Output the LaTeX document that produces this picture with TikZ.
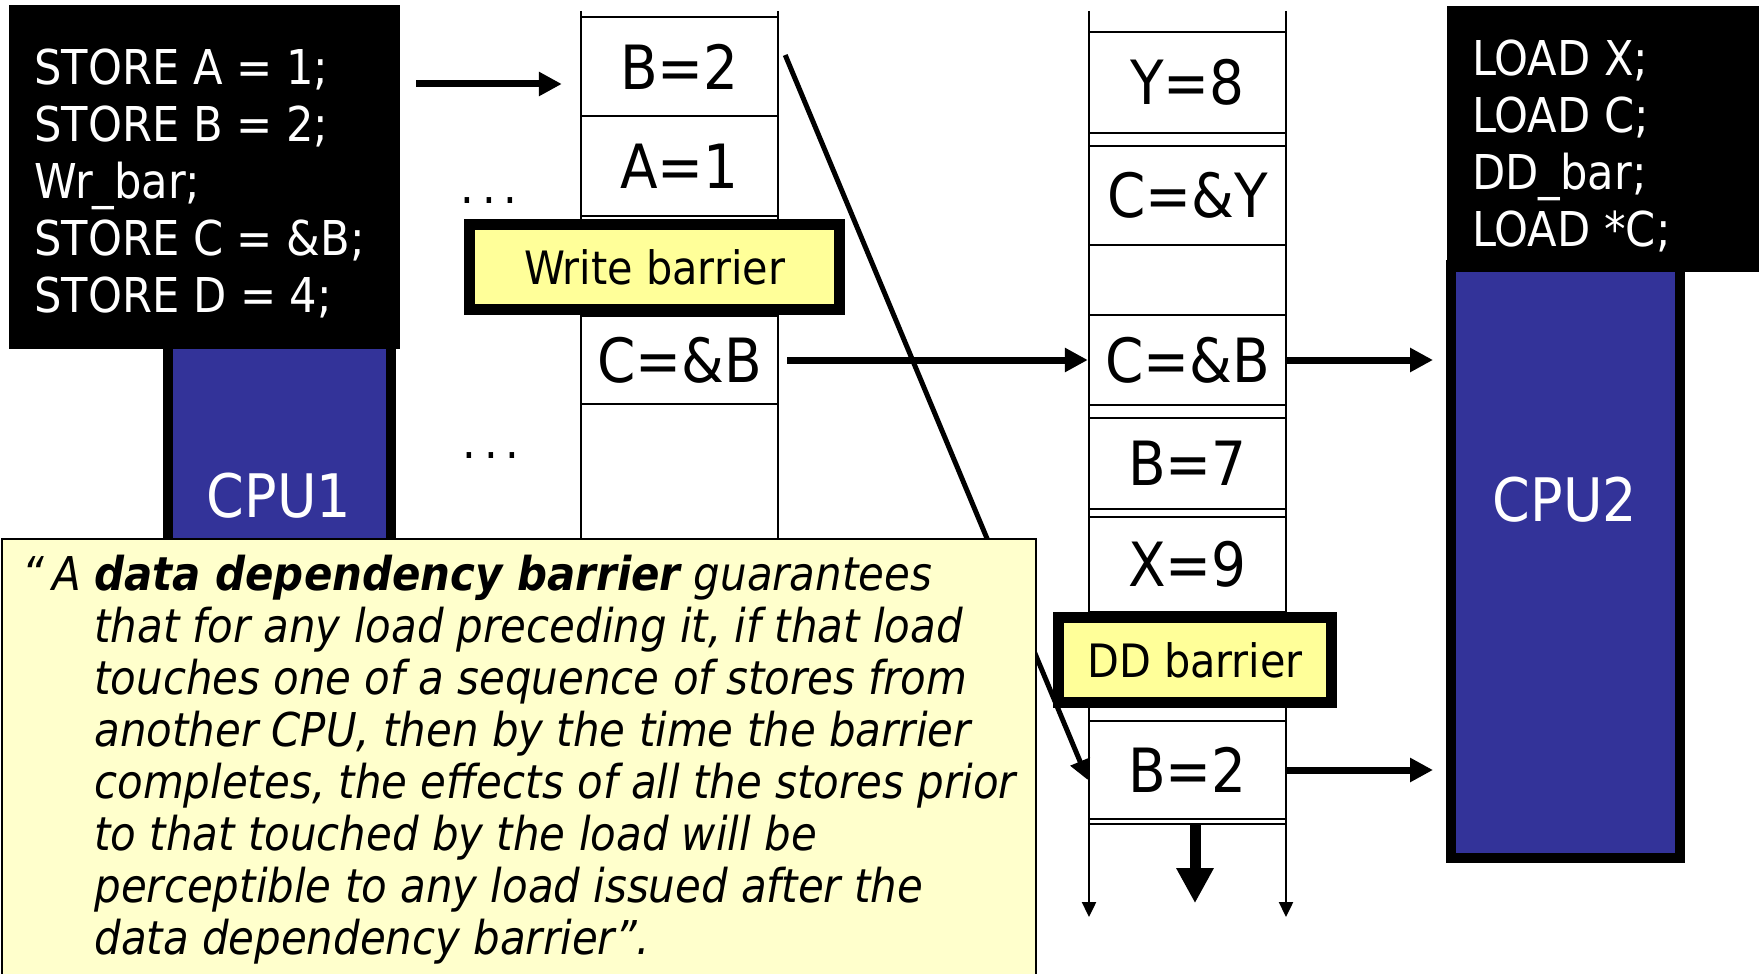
\documentclass[tikz,border=0pt]{standalone}
\usepackage{fontspec}
\setmainfont{DejaVuSansCondensed.ttf}[
    BoldFont=DejaVuSansCondensed-Bold.ttf,
    ItalicFont=DejaVuSansCondensed-Oblique.ttf,
    BoldItalicFont=DejaVuSansCondensed-BoldOblique.ttf]
\usetikzlibrary{arrows.meta}
\definecolor{cpublue}{HTML}{333399}
\definecolor{baryellow}{HTML}{FFFF99}
\definecolor{quoteyellow}{HTML}{FFFFCC}

\begin{document}
\begin{tikzpicture}[x=0.5pt, y=-0.5pt,
    qcell/.style={draw, line width=1.2pt, minimum width=98.5pt, inner sep=0pt, font=\fontsize{30.5}{36}\selectfont},
    codebox/.style={fill=black, inner sep=0pt},
    codetext/.style={white, anchor=north west, align=left, inner sep=0pt, font=\fontsize{24}{28.5}\selectfont},
    cpubox/.style={draw=black, line width=5pt, fill=cpublue, inner sep=0pt},
    cpulabel/.style={white, inner sep=0pt, font=\fontsize{30}{36}\selectfont},
    barrierbox/.style={draw=black, line width=5.5pt, fill=baryellow, inner sep=0pt, font=\fontsize{23}{27}\selectfont},
    gap/.style={inner sep=0pt, font=\fontsize{24}{30}\selectfont},
    arr/.style={-{Triangle[length=11.5pt,width=11.5pt]}, line width=3.5pt},
    diagarr/.style={-{Triangle[length=10pt,width=10pt]}, line width=2.5pt},
    bigarr/.style={-{Triangle[length=17.5pt,width=17.5pt]}, line width=5.5pt},
    rail/.style={-{Triangle[length=7.5pt,width=7pt]}, line width=1.2pt}]

    % Canvas
    \useasboundingbox (0,0) rectangle (1762,974);
    \fill[white] (0,0) rectangle (1762,974);

    % CPU 1 and its program
    \node[cpubox, minimum width=111.5pt, minimum height=140pt] (cpu1) at (279.5,480) {};
    \node[cpulabel] (cpu1lbl) at (279,496) {CPU1};
    \node[codebox, minimum width=195.5pt, minimum height=172pt] (code1) at (204.5,177) {};
    \node[codetext] (prog1) at (34,48) {STORE A = 1;\\STORE B = 2;\\Wr\_bar;\\STORE C = \&B;\\STORE D = 4;};

    % CPU 2 and its program
    \node[cpubox, minimum width=114.5pt, minimum height=296.5pt] (cpu2) at (1565.5,561.5) {};
    \node[cpulabel] (cpu2lbl) at (1565,500) {CPU2};
    \node[codebox, minimum width=156pt, minimum height=133pt] (code2) at (1603,139) {};
    \node[codetext] (prog2) at (1472,39) {LOAD X;\\LOAD C;\\DD\_bar;\\LOAD *C;};

    % Store buffer of CPU 1
    \draw[line width=1.2pt] (581,11) -- (581,560) (778,11) -- (778,560);
    \node[qcell, minimum height=49.5pt] (b2L) at (679.5,66.5) {B=2};
    \node[qcell, minimum height=50pt] (a1L) at (679.5,166) {A=1};
    \node[qcell, minimum height=44pt] (cbL) at (679.5,360) {C=\&B};
    \node[qcell, minimum height=78pt] (emptyL) at (679.5,482) {};
    \node[gap] (dots1) at (489,201) {.\kern4pt.\kern4pt.};
    \node[gap] (dots2) at (491,456) {.\kern4pt.\kern4pt.};
    \node[barrierbox, minimum width=185pt, minimum height=42.5pt] (wbar) at (654.5,267) {Write barrier};

    % Invalidate queue of CPU 2 (drains downwards)
    \draw[rail] (1089,11) -- (1089,917);
    \draw[rail] (1286,11) -- (1286,917);
    \node[qcell, minimum height=50.5pt] (y8R) at (1187.5,82.5) {Y=8};
    \node[qcell, minimum height=49.5pt] (cyR) at (1187.5,195.5) {C=\&Y};
    \node[qcell, minimum height=35pt] (emptyR) at (1187.5,280) {};
    \node[qcell, minimum height=45pt] (cbR) at (1187.5,360) {C=\&B};
    \node[qcell, minimum height=45.5pt] (b7R) at (1187.5,463.5) {B=7};
    \node[qcell, minimum height=47.5pt] (x9R) at (1187.5,564.5) {X=9};
    \node[qcell, minimum height=49pt] (b2R) at (1187.5,770) {B=2};
    \draw[line width=1.2pt] ([yshift=-2pt]b2R.south west) -- ([yshift=-2pt]b2R.south east);
    \node[barrierbox, minimum width=136.5pt, minimum height=42.5pt] (ddbar) at (1195,660) {DD barrier};

    % Stores travelling from CPU 1 to CPU 2
    \coordinate (in1) at ([yshift=-8.75pt]b2L.west);
    \draw[arr, shorten <=8pt, shorten >=9pt] (in1 -| code1.east) -- (in1);
    \draw[arr, shorten <=4pt] (cbL.east) -- (cbR.west);
    \draw[arr, shorten >=6.5pt] (cbR.east) -- (cbR.east -| cpu2.west);
    \draw[arr, shorten >=6.5pt] (b2R.east) -- (b2R.east -| cpu2.west);
    \draw[diagarr] ([xshift=3pt, yshift=5.75pt]b2L.east) -- ([yshift=-5pt]b2R.west);
    \draw[bigarr] ([xshift=3.75pt, yshift=-1.5pt]b2R.south) -- ++(0,80);

    % The quotation
    \draw[line width=1pt, fill=quoteyellow] (2,539) rectangle (1036,990);
    \node[anchor=north west, align=left, inner sep=0pt, font=\fontsize{23.3}{26}\selectfont\itshape] (quote) at (94,555)
        {\llap{“\hspace{4pt}A\ }\textbf{data dependency barrier} guarantees\\
        that for any load preceding it, if that load\\
        touches one of a sequence of stores from\\
        another CPU, then by the time the barrier\\
        completes, the effects of all the stores prior\\
        to that touched by the load will be\\
        perceptible to any load issued after the\\
        data dependency barrier”.};

\end{tikzpicture}
\end{document}
